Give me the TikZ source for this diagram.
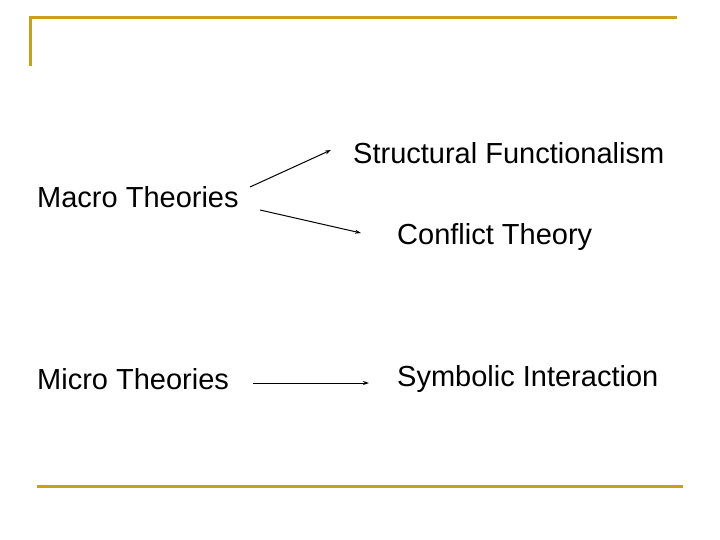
\documentclass[tikz,border=0pt]{standalone}
\usepackage{fontspec}
\setmainfont{Liberation Sans}
\usetikzlibrary{arrows.meta}
\definecolor{gold}{RGB}{200,160,30}
\begin{document}
\begin{tikzpicture}[x=1pt,y=-1pt,
  lbl/.style={anchor=west,inner sep=0pt,font=\fontsize{29}{33}\selectfont},
  rule/.style={gold,line width=3pt},
  conn/.style={-{Stealth[length=6pt,width=4pt]},line width=1pt}]
\useasboundingbox (0,0) rectangle (720,540);
\draw[rule] (30,66) -- (30,18) -- (677,18);
\draw[rule] (37,486) -- (683,486);
\node[lbl] (sf) at (353,153) {Structural Functionalism};
\node[lbl] (mac) at (37,197) {Macro Theories};
\node[lbl] (ct) at (397,237) {Conflict Theory};
\node[lbl] (mic) at (37,379) {Micro Theories};
\node[lbl] (si) at (397,379) {Symbolic Interaction};
\coordinate (a1) at (250,187); \coordinate (b1) at (331,150);
\coordinate (a2) at (260,210); \coordinate (b2) at (361,233);
\coordinate (a3) at (253,383); \coordinate (b3) at (369,383);
\draw[conn] (a1) -- (b1);
\draw[conn] (a2) -- (b2);
\draw[conn] (a3) -- (b3);
\end{tikzpicture}
\end{document}
